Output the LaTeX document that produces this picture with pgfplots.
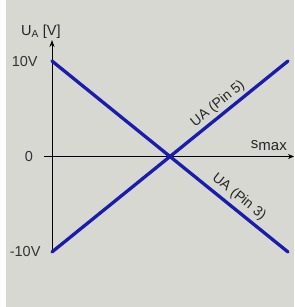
\documentclass[border=0pt]{standalone}
\usepackage{pgfplots}
\pgfplotsset{compat=1.18}
\usepackage{fontspec}
\setmainfont{Liberation Sans}
\usetikzlibrary{arrows.meta}
\definecolor{paper}{RGB}{216,216,210}
\definecolor{lineblue}{RGB}{26,28,172}
\begin{document}
\begin{tikzpicture}
\begin{axis}[
  width=294pt, height=307pt, scale only axis,
  xmin=-0.2203, xmax=1.0254, ymin=-15.76, ymax=16.39,
  axis lines=none, ticks=none, clip=false,
  axis background/.style={fill=paper},
]
\fill[white!96!paper] (axis cs:-0.2203,-15.76) rectangle (axis cs:-0.195,16.39);
% axes
\draw[black, line width=0.9pt, -{Stealth[length=7pt,width=5pt]}] (axis cs:0,-10) -- (axis cs:0,12.2);
\draw[black, line width=0.9pt, -{Stealth[length=6pt,width=5pt]}] (axis cs:-0.034,0) -- (axis cs:1.0254,0);
% data
\addplot[lineblue, line width=3.3pt, line cap=round] coordinates {(0,10) (1,-10)};
\addplot[lineblue, line width=3.3pt, line cap=round] coordinates {(0,-10) (1,10)};
% labels
\node[anchor=east, font=\fontsize{14.5}{14}\selectfont, text=black!80] at (axis cs:-0.046,10) {10V};
\node[anchor=east, font=\fontsize{14.5}{14}\selectfont, text=black!80] at (axis cs:-0.066,0) {0};
\node[anchor=east, font=\fontsize{14.5}{14}\selectfont, text=black!80] at (axis cs:-0.034,-10) {-10V};
\node[font=\fontsize{14.5}{14}\selectfont, text=black!85] at (axis cs:-0.047,13.1) {U\textsubscript{A} [V]};
\node[font=\fontsize{15}{15}\selectfont, text=black!85] at (axis cs:0.919,1.15) {\raisebox{1pt}{s}\raisebox{-1pt}{max}};
\node[rotate=39, font=\fontsize{14}{14}\selectfont, text=black!85] at (axis cs:0.703,5.5) {UA (Pin 5)};
\node[rotate=-39, font=\fontsize{14}{14}\selectfont, text=black!85] at (axis cs:0.792,-4.24) {UA (Pin 3)};
\end{axis}
\end{tikzpicture}
\end{document}
